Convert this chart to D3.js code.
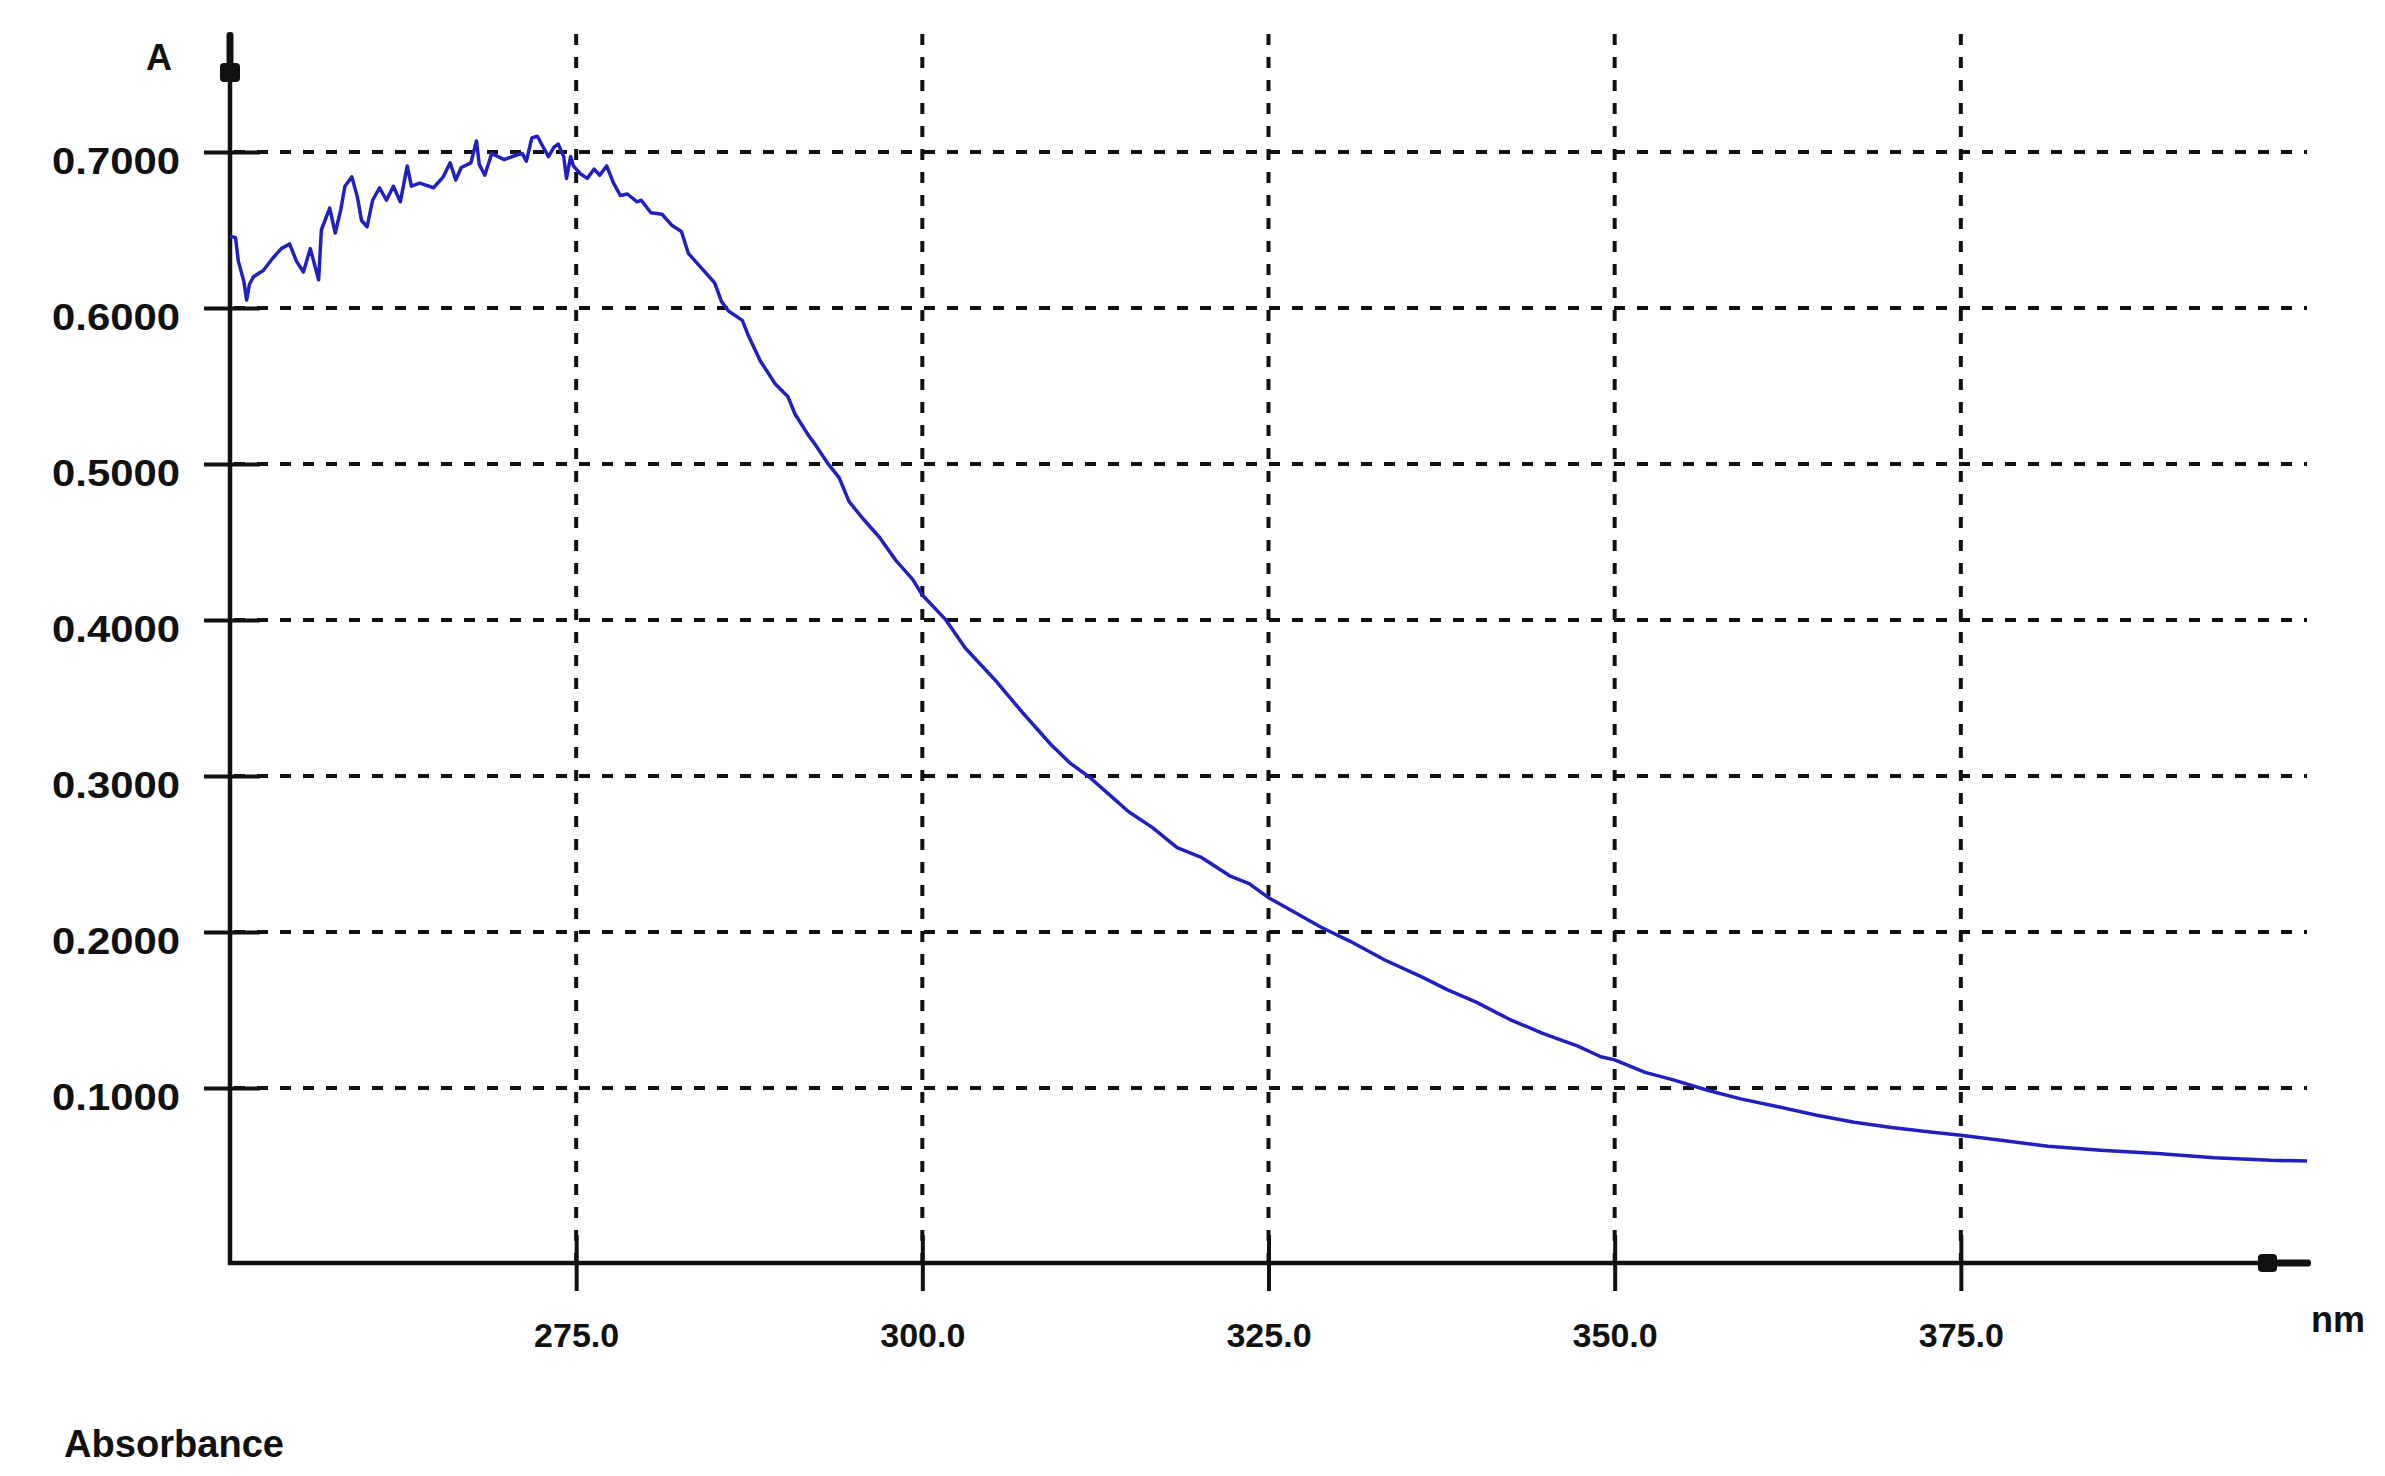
<!DOCTYPE html>
<html>
<head>
<meta charset="utf-8">
<script src="https://cdn.jsdelivr.net/npm/d3@7"></script>
<style>
  body { margin: 0; background: #fff; }
  text { font-family: "Liberation Sans", Arial, sans-serif; fill: #111; }
</style>
</head>
<body>
<script>
// spectrum (nm, absorbance)
let wavelength = [
  250.0, 250.4, 250.6, 251.0, 251.2, 251.4, 251.7, 252.4, 253.1, 253.7,
  254.3, 254.8, 255.3, 255.8, 256.1, 256.4, 256.6, 257.2, 257.6, 258.0,
  258.3, 258.8, 259.2, 259.5, 259.9, 260.3, 260.8, 261.3, 261.8, 262.3,
  262.8, 263.1, 263.7, 264.7, 265.4, 265.9, 266.3, 266.7, 267.4, 267.8,
  268.0, 268.4, 268.9, 269.8, 270.7, 271.1, 271.4, 271.8, 272.2, 272.5,
  273.0, 273.4, 273.7, 274.1, 274.3, 274.6, 274.8, 275.3, 275.8, 276.3,
  276.7, 277.2, 277.7, 278.2, 278.7, 279.4, 279.7, 280.4, 281.2, 281.9,
  282.6, 283.1, 284.1, 285.0, 285.5, 286.0, 287.0, 287.4, 288.3, 289.4,
  290.3, 290.8, 291.8, 292.3, 293.2, 294.0, 294.7, 295.7, 296.9, 298.1,
  299.3, 300.0, 301.7, 303.1, 305.2, 307.2, 309.3, 310.7, 312.1, 313.5,
  314.9, 316.6, 318.4, 320.1, 322.2, 323.6, 325.0, 326.4, 328.8, 330.9,
  333.4, 336.1, 337.9, 340.0, 342.4, 344.8, 347.3, 349.0, 350.0, 352.2,
  354.3, 356.7, 359.1, 361.8, 364.6, 367.3, 370.0, 372.8, 375.0, 377.9,
  381.3, 385.1, 389.2, 393.3, 397.4, 400.0
];
let absorbance = [
  0.646, 0.645, 0.630, 0.617, 0.605, 0.615, 0.620, 0.624, 0.632, 0.638,
  0.641, 0.630, 0.623, 0.638, 0.628, 0.618, 0.650, 0.664, 0.648, 0.663,
  0.678, 0.684, 0.671, 0.656, 0.652, 0.669, 0.677, 0.669, 0.678, 0.668,
  0.691, 0.678, 0.680, 0.677, 0.684, 0.693, 0.682, 0.690, 0.693, 0.707,
  0.692, 0.685, 0.699, 0.695, 0.698, 0.699, 0.694, 0.709, 0.710, 0.705,
  0.697, 0.703, 0.705, 0.697, 0.683, 0.697, 0.691, 0.686, 0.683, 0.689,
  0.685, 0.691, 0.680, 0.672, 0.673, 0.668, 0.669, 0.661, 0.660, 0.653,
  0.649, 0.635, 0.625, 0.616, 0.604, 0.598, 0.592, 0.583, 0.566, 0.551,
  0.543, 0.532, 0.518, 0.512, 0.500, 0.491, 0.476, 0.465, 0.453, 0.438,
  0.426, 0.416, 0.400, 0.382, 0.362, 0.341, 0.320, 0.308, 0.299, 0.288,
  0.277, 0.267, 0.254, 0.248, 0.236, 0.231, 0.222, 0.215, 0.203, 0.194,
  0.182, 0.171, 0.163, 0.155, 0.144, 0.135, 0.127, 0.120, 0.118, 0.110,
  0.105, 0.0985, 0.093, 0.088, 0.0825, 0.078, 0.0746, 0.0718, 0.0697, 0.0665,
  0.0626, 0.060, 0.058, 0.0553, 0.0536, 0.0532
];

let xTicks = [275, 300, 325, 350, 375];
let yTicks = [0.1, 0.2, 0.3, 0.4, 0.5, 0.6, 0.7];

let width = 2385, height = 1476;

let svg = d3.select("body")
  .append("svg")
  .attr("width", width)
  .attr("height", height);

let xScale = d3.scaleLinear()
  .domain([250, 400])
  .range([230, 2307]);

let yScale = d3.scaleLinear()
  .domain([-0.0122, 0.7762])
  .range([1263, 33]);

let x0 = xScale(250), y0 = yScale(-0.0122);

// dotted grid
svg.append("g")
  .selectAll("line")
  .data(yTicks)
  .enter()
  .append("line")
  .attr("x1", x0 + 4)
  .attr("x2", xScale(400))
  .attr("y1", d => yScale(d))
  .attr("y2", d => yScale(d))
  .attr("stroke", "#111")
  .attr("stroke-width", 4)
  .attr("stroke-dasharray", "11,12");

svg.append("g")
  .selectAll("line")
  .data(xTicks)
  .enter()
  .append("line")
  .attr("x1", d => xScale(d))
  .attr("x2", d => xScale(d))
  .attr("y1", 34)
  .attr("y2", y0)
  .attr("stroke", "#111")
  .attr("stroke-width", 4)
  .attr("stroke-dasharray", "11,12");

// axes
let xAxis = d3.axisBottom(xScale)
  .tickValues(xTicks)
  .tickFormat(d3.format(".1f"))
  .tickSize(28)
  .tickPadding(32);

let gx = svg.append("g")
  .attr("transform", `translate(0, ${y0})`)
  .call(xAxis);
gx.select(".domain").remove();
gx.selectAll(".tick line")
  .attr("y1", -28)
  .attr("stroke", "#111")
  .attr("stroke-width", 4);
gx.selectAll(".tick text")
  .attr("font-size", 34)
  .attr("font-weight", "bold")
  .attr("font-family", "Liberation Sans, Arial, sans-serif");

let yAxis = d3.axisLeft(yScale)
  .tickValues(yTicks)
  .tickFormat(d3.format(".4f"))
  .tickSize(26)
  .tickPadding(24);

let gy = svg.append("g")
  .attr("transform", `translate(${x0}, 0)`)
  .call(yAxis);
gy.select(".domain").remove();
gy.selectAll(".tick line")
  .attr("x1", 30)
  .attr("stroke", "#111")
  .attr("stroke-width", 4);
gy.selectAll(".tick text")
  .attr("font-size", 36)
  .attr("font-weight", "bold")
  .attr("font-family", "Liberation Sans, Arial, sans-serif")
  .attr("dy", "0.6em")
  .attr("textLength", 128)
  .attr("lengthAdjust", "spacingAndGlyphs");

// axis lines with the little arrow heads
svg.append("line")
  .attr("x1", x0).attr("x2", x0)
  .attr("y1", 40).attr("y2", y0 + 2)
  .attr("stroke", "#111").attr("stroke-width", 4.5);
svg.append("rect")
  .attr("x", x0 - 3.5).attr("y", 32)
  .attr("width", 7).attr("height", 34)
  .attr("rx", 3).attr("fill", "#111");
svg.append("rect")
  .attr("x", x0 - 10).attr("y", 63)
  .attr("width", 20).attr("height", 19)
  .attr("rx", 4).attr("fill", "#111");

svg.append("line")
  .attr("x1", x0 - 2).attr("x2", 2290)
  .attr("y1", y0).attr("y2", y0)
  .attr("stroke", "#111").attr("stroke-width", 4.5);
svg.append("rect")
  .attr("x", 2258).attr("y", y0 - 9)
  .attr("width", 19).attr("height", 18)
  .attr("rx", 4).attr("fill", "#111");
svg.append("rect")
  .attr("x", 2274).attr("y", y0 - 3.5)
  .attr("width", 37).attr("height", 7)
  .attr("rx", 3).attr("fill", "#111");

// spectrum
let points = wavelength.map((w, i) => [w, absorbance[i]]);
let line = d3.line()
  .x(d => xScale(d[0]))
  .y(d => yScale(d[1]));

svg.append("path")
  .datum(points)
  .attr("d", line)
  .attr("fill", "none")
  .attr("stroke", "#2020c0")
  .attr("stroke-width", 3.5)
  .attr("stroke-linejoin", "round");

// labels
svg.append("text")
  .attr("x", 159).attr("y", 70)
  .attr("text-anchor", "middle")
  .attr("font-size", 36)
  .attr("font-weight", "bold")
  .text("A");

svg.append("text")
  .attr("x", 2338).attr("y", 1332)
  .attr("text-anchor", "middle")
  .attr("font-size", 36)
  .attr("font-weight", "bold")
  .text("nm");

svg.append("text")
  .attr("x", 64).attr("y", 1457)
  .attr("font-size", 38)
  .attr("font-weight", "bold")
  .attr("textLength", 220)
  .attr("lengthAdjust", "spacingAndGlyphs")
  .text("Absorbance");
</script>
</body>
</html>
